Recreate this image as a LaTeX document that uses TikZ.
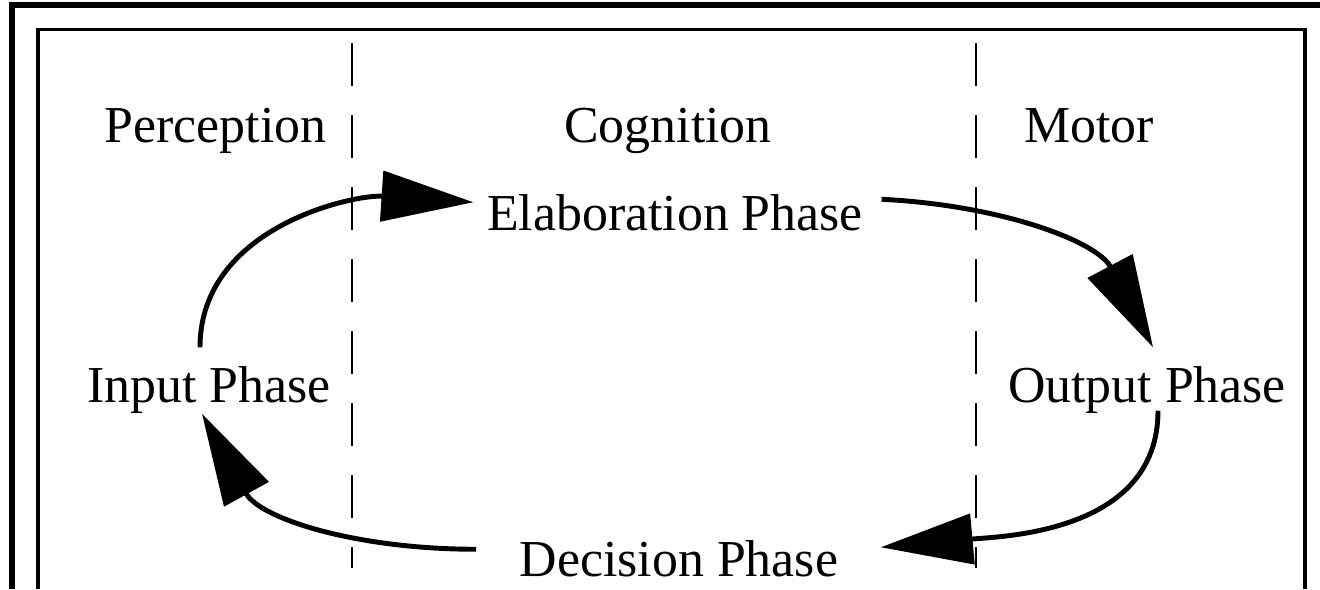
\documentclass[tikz,border=0pt]{standalone}
\usepackage{fontspec}
\setmainfont{Liberation Serif}
\usetikzlibrary{arrows.meta}

\begin{document}
\begin{tikzpicture}[every node/.style={font=\fontsize{14.75pt}{17pt}\selectfont, inner sep=0.18cm, anchor=base},
  flow/.style={line width=1.4pt, -{Triangle[length=0.92cm, width=0.5cm]}},
  divider/.style={line width=0.6pt, dash pattern=on 0.43cm off 0.29cm}]
\useasboundingbox (0,0) rectangle (13.2,5.89);
% frames
\draw[line width=0.06cm] (13.2,5.84) -- (0.12,5.84) -- (0.12,0);
\draw[line width=0.035cm] (0.38,0) -- (0.38,5.593) -- (13.05,5.593) -- (13.05,0);
\draw[divider] (3.52,5.46) -- (3.52,0.21);
\draw[divider] (9.76,5.46) -- (9.76,0.21);
% stages
\node (perc) at (2.155,4.46) {Perception};
\node (cogn) at (6.68,4.46) {Cognition};
\node (motor) at (10.89,4.46) {Motor};
% phases
\node (elab) at (6.75,3.58) {Elaboration Phase};
\node (input) at (2.09,1.87) {Input Phase};
\node (output) at (11.47,1.87) {Output Phase};
\node (dec) at (6.79,0.13) {Decision Phase};
\draw[flow] ([xshift=-0.09cm]input.north) .. controls +(0,1.2) and +(-1.2,0.08) .. ([xshift=0.05cm, yshift=0.11cm]elab.west);
\draw[flow] ([yshift=0.14cm]elab.east) .. controls +(1.2,-0.06) and +(-0.56,1.06) .. ([xshift=0.06cm]output.north);
\draw[flow] ([xshift=0.11cm, yshift=0.21cm]output.south) .. controls +(0,-1.22) and +(1.22,0.11) .. ([xshift=0.24cm, yshift=0.11cm]dec.east);
\draw[flow] ([xshift=-0.25cm, yshift=0.09cm]dec.west) .. controls +(-1.2,0) and +(0.58,-1.05) .. ([xshift=-0.07cm, yshift=0.18cm]input.south);
\end{tikzpicture}
\end{document}
